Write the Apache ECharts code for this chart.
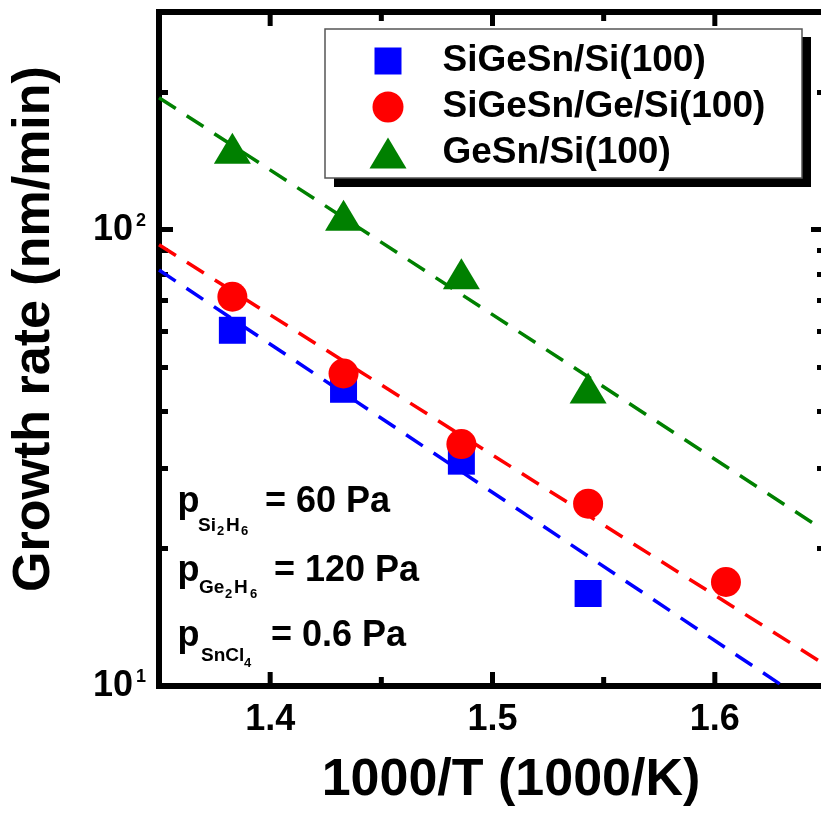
<!DOCTYPE html>
<html>
<head>
<meta charset="utf-8">
<script src="https://cdn.jsdelivr.net/npm/echarts@6/dist/echarts.min.js"></script>
<style>
html,body{margin:0;padding:0;background:#fff;}
#chart{width:821px;height:816px;}
</style>
</head>
<body>
<div id="chart"></div>
<script>
// ---- data ----
const xValues = [1.383, 1.433, 1.486, 1.543, 1.605];          // 1000/T (1000/K)
const seriesNames = ['SiGeSn/Si(100)', 'SiGeSn/Ge/Si(100)', 'GeSn/Si(100)'];
const siGeSnOnSi = [60.2, 44.7, 31.1, 15.95];                    // nm/min
const siGeSnOnGeSi = [71.3, 48.4, 33.9, 25.1, 16.9];
const geSnOnSi = [150.9, 107.6, 80.1, 45.0];
const fitX = [1.35, 1.65];
const fitSiGeSnOnSi = [81.6, 8.65];
const fitSiGeSnOnGeSi = [92.7, 11.1];
const fitGeSnOnSi = [194.7, 21.8];
const xMajorTicks = [1.4, 1.5, 1.6];
const xMinorTicks = [1.45, 1.55];
const yMajorTicks = [10, 100];
const yMinorTicks = [20, 30, 40, 50, 60, 70, 80, 90, 200];
const xTitle = '1000/T (1000/K)';
const yTitle = 'Growth rate (nm/min)';

const FONT = '"Liberation Sans", Arial, sans-serif';
const BLUE = '#0000ff', RED = '#ff0000', GREEN = '#008000';

const pts = (xs, ys) => ys.map((y, i) => [xs[i], y]);

function xAxisDef(position, showLabel) {
  return {
    type: 'value', gridIndex: 0, position: position, min: 1.35, max: 1.65,
    axisLine: { show: false, onZero: false },
    axisTick: { show: false },
    axisLabel: { show: showLabel, customValues: xMajorTicks, margin: 16,
      fontSize: 36, fontWeight: 'bold', color: '#000', fontFamily: FONT,
      lineHeight: 36, formatter: v => v.toFixed(1) },
    splitLine: { show: false }
  };
}
function yAxisDef(position, ticks, len, showLabel) {
  return {
    type: 'log', gridIndex: 0, position: position, min: 10, max: 300, logBase: 10,
    axisLine: { show: false, onZero: false },
    axisTick: { show: true, inside: true, length: len, customValues: ticks,
      lineStyle: { color: '#000', width: 5 } },
    axisLabel: { show: showLabel, customValues: yMajorTicks, margin: 13,
      fontSize: 36, fontWeight: 'bold', color: '#000', fontFamily: FONT,
      formatter: v => '{n|10}{s|' + Math.round(Math.log10(v)) + '}',
      rich: {
        n: { fontSize: 36, fontWeight: 'bold', color: '#000', fontFamily: FONT, lineHeight: 36, verticalAlign: 'bottom' },
        s: { fontSize: 18, fontWeight: 'bold', color: '#000', fontFamily: FONT, lineHeight: 18, verticalAlign: 'top', padding: [0, 0, 0, 3] }
      } },
    splitLine: { show: false }
  };
}

function txt(x, y, text, size, align) {
  return { type: 'text', x: x, y: y, z: 20, silent: true,
    style: { text: text, fill: '#000', font: 'bold ' + size + 'px ' + FONT,
      align: align || 'left', verticalAlign: 'middle' } };
}

const baseGraphics = [
  { type: 'rect', z: 5, silent: true, shape: { x: 334, y: 37, width: 477, height: 150 }, style: { fill: '#000' } },
  { type: 'rect', z: 6, silent: true, shape: { x: 325, y: 29, width: 477, height: 149 }, style: { fill: '#fff', stroke: '#555', lineWidth: 1.5 } },
  txt(511, 781, xTitle, 52, 'center'),
  Object.assign(txt(35, 329, yTitle, 52, 'center'), { rotation: Math.PI / 2 }),
  // p(Si2H6) = 60 Pa
  txt(177.5, 502, 'p', 36), txt(198, 526, 'Si', 19), txt(217, 531, '2', 13),
  txt(226, 526, 'H', 19), txt(241, 531, '6', 13), txt(265, 502, '= 60 Pa', 36),
  // p(Ge2H6) = 120 Pa
  txt(177.5, 571, 'p', 36), txt(199, 588, 'Ge', 19), txt(225, 594, '2', 13),
  txt(234, 588, 'H', 19), txt(250, 594, '6', 13), txt(274, 571, '= 120 Pa', 36),
  // p(SnCl4) = 0.6 Pa
  txt(177.5, 636, 'p', 36), txt(201, 656, 'SnCl', 19), txt(244, 663, '4', 13),
  txt(271, 636, '= 0.6 Pa', 36)
];

const chart = echarts.init(document.getElementById('chart'), null, { renderer: 'canvas' });
chart.setOption({
  backgroundColor: '#fff',
  animation: false,
  grid: { left: 159, right: -5, top: 12, bottom: 130, containLabel: false, outerBoundsMode: 'none',
    show: true, borderColor: '#000', borderWidth: 6, backgroundColor: 'transparent' },
  xAxis: [ xAxisDef('bottom', true), xAxisDef('top', false) ],
  yAxis: [
    yAxisDef('left', yMajorTicks, 14, true),
    yAxisDef('left', yMinorTicks, 9, false),
    yAxisDef('right', yMajorTicks, 15, false),
    yAxisDef('right', yMinorTicks, 9, false)
  ],
  legend: {
    orient: 'vertical', left: 369.5, top: 41, padding: 0, itemGap: 6,
    itemWidth: 37, itemHeight: 31, selectedMode: false, z: 10,
    data: [
      { name: seriesNames[0], icon: 'path://M0,0M2,2h27v27h-27zM31,31' },
      { name: seriesNames[1], icon: 'circle' },
      { name: seriesNames[2], icon: 'path://M18.5,0L37,31L0,31Z' }
    ],
    textStyle: { fontSize: 37, fontWeight: 'bold', color: '#000', fontFamily: FONT,
      lineHeight: 40, padding: [0, 0, 0, 31] }
  },
  graphic: baseGraphics,
  series: [
    { name: 'fit1', type: 'line', xAxisIndex: 0, yAxisIndex: 0, data: pts(fitX, fitSiGeSnOnSi),
      symbol: 'none', clip: true, silent: true, z: 2,
      lineStyle: { color: BLUE, width: 3.5, type: [20, 13] } },
    { name: 'fit2', type: 'line', xAxisIndex: 0, yAxisIndex: 0, data: pts(fitX, fitSiGeSnOnGeSi),
      symbol: 'none', clip: true, silent: true, z: 2,
      lineStyle: { color: RED, width: 3.5, type: [20, 13] } },
    { name: 'fit3', type: 'line', xAxisIndex: 0, yAxisIndex: 0, data: pts(fitX, fitGeSnOnSi),
      symbol: 'none', clip: true, silent: true, z: 2,
      lineStyle: { color: GREEN, width: 3.5, type: [20, 13] } },
    { name: seriesNames[0], type: 'scatter', xAxisIndex: 0, yAxisIndex: 0, data: pts(xValues, siGeSnOnSi),
      symbol: 'rect', symbolSize: 27, z: 3, itemStyle: { color: BLUE, opacity: 1 } },
    { name: seriesNames[1], type: 'scatter', xAxisIndex: 0, yAxisIndex: 0, data: pts(xValues, siGeSnOnGeSi),
      symbol: 'circle', symbolSize: 30, z: 4, itemStyle: { color: RED, opacity: 1 } },
    { name: seriesNames[2], type: 'scatter', xAxisIndex: 0, yAxisIndex: 0, data: pts(xValues, geSnOnSi),
      symbol: 'triangle', symbolSize: [37, 31], z: 3, itemStyle: { color: GREEN, opacity: 1 } }
  ]
});

// x-axis ticks (bottom and top frame), positioned through the chart's own x scale
const yBottom = chart.convertToPixel({ yAxisIndex: 0 }, 10);
const yTop = chart.convertToPixel({ yAxisIndex: 0 }, 300);
const tickGraphics = [];
function addXTick(v, len) {
  const x = chart.convertToPixel({ xAxisIndex: 0 }, v);
  tickGraphics.push({ type: 'line', z: 1, silent: true,
    shape: { x1: x, y1: yBottom, x2: x, y2: yBottom - len }, style: { stroke: '#000', lineWidth: 5 } });
  tickGraphics.push({ type: 'line', z: 1, silent: true,
    shape: { x1: x, y1: yTop, x2: x, y2: yTop + len }, style: { stroke: '#000', lineWidth: 5 } });
}
xMajorTicks.forEach(v => addXTick(v, 14));
xMinorTicks.forEach(v => addXTick(v, 9));
chart.setOption({ graphic: baseGraphics.concat(tickGraphics) });
</script>
</body>
</html>
